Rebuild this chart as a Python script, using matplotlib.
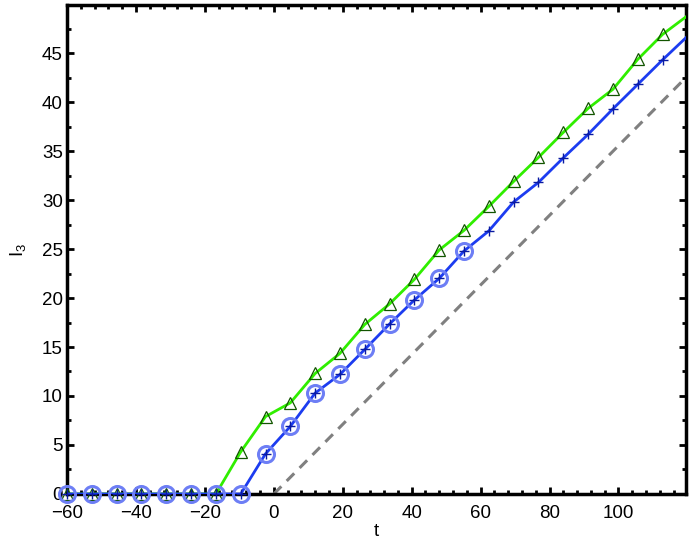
import matplotlib.pyplot as plt
from matplotlib.ticker import MultipleLocator
import numpy as np

plt.rcParams['font.family'] = ['Liberation Sans', 'DejaVu Sans']
plt.rcParams['mathtext.fontset'] = 'custom'
plt.rcParams['mathtext.rm'] = 'Liberation Sans'

# sample times (every 7.2 from -60 to 120)
t = [-60, -52.8, -45.6, -38.4, -31.2, -24, -16.8, -9.6, -2.4, 4.8, 12, 19.2,
     26.4, 33.6, 40.8, 48, 55.2, 62.4, 69.6, 76.8, 84, 91.2, 98.4, 105.6,
     112.8, 120]

upper = [0, 0, 0, 0, 0, 0, 0, 4.3, 7.9, 9.3, 12.3, 14.35, 17.3, 19.4, 21.9,
         24.9, 26.9, 29.35, 31.9, 34.35, 36.9, 39.35, 41.3, 44.35, 46.9, 48.8]

lower = [0, 0, 0, 0, 0, 0, 0, 0, 4.1, 6.9, 10.3, 12.2, 14.75, 17.35, 19.8,
         22.0, 24.8, 26.85, 29.8, 31.8, 34.3, 36.7, 39.3, 41.8, 44.3, 46.7]

# circled points (first 17 samples of the lower curve)
n_circ = 17

ref_t = [0, 120]
ref_y = [0, 42.65]

xmax = 119.6

fig = plt.figure(figsize=(6.96, 5.45), dpi=100)
ax = fig.add_axes([0.0963, 0.0936, 0.8893, 0.8972])

ax.plot(ref_t, ref_y, color='#808080', lw=2.2, dashes=(3.5, 2.5), zorder=2)
ax.plot(t, upper, color='#30ee00', lw=2.0, zorder=3)
ax.plot(t, lower, color='#1c3cf0', lw=2.0, zorder=4)

# markers are only hidden when their centre is outside the axes (like MATLAB)
n_in = sum(1 for v in t if v <= xmax)
ax.plot(t[:n_in], upper[:n_in], ls='none', marker='^', ms=8,
        mfc='none', mec='#125500', mew=0.9, zorder=3.5, clip_on=False)
ax.plot(t[:n_in], lower[:n_in], ls='none', marker='+', ms=6.5,
        mec='#0a1aa0', mew=1.0, zorder=4.5, clip_on=False)
ax.plot(t[:n_circ], lower[:n_circ], ls='none', marker='o', ms=11.5,
        mfc='none', mec='#6d7ef5', mew=2.2, zorder=5, clip_on=False)

ax.set_xlim(-60, xmax)
ax.set_ylim(0, 49.9)
ax.set_xticks(np.arange(-60, 101, 20))
ax.set_yticks(np.arange(0, 46, 5))
ax.xaxis.set_minor_locator(MultipleLocator(4))
ax.yaxis.set_minor_locator(MultipleLocator(2.5))

ax.tick_params(which='both', direction='in', top=True, right=True,
               labelsize=13.5, width=2)
ax.tick_params(axis='x', pad=8)
ax.tick_params(axis='y', pad=3)
ax.tick_params(which='major', length=5)
ax.tick_params(which='minor', length=3)
for s in ax.spines.values():
    s.set_linewidth(2.5)

ax.set_xlabel('t', fontsize=13.5, labelpad=1)
ax.set_ylabel(r'$\mathregular{I_3}$', fontsize=13.5, labelpad=10)

fig.savefig('out.png', dpi=100)
